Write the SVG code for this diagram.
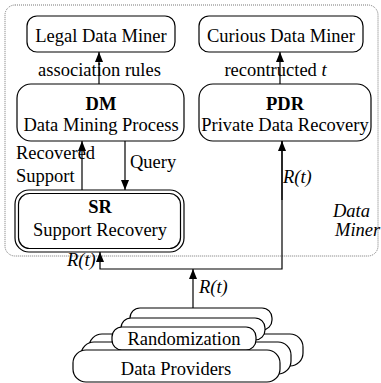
<svg xmlns="http://www.w3.org/2000/svg" width="381" height="383" viewBox="0 0 381 383">
<style>
text{font-family:"Liberation Serif","Times New Roman",serif;font-size:18.5px;fill:#000}
.c{text-anchor:middle}
.b{font-weight:bold}
.i{font-style:italic}
.box{fill:#fff;stroke:#000;stroke-width:1.2}
.ln{fill:none;stroke:#000;stroke-width:1.2}
</style>
<defs>
<marker id="ah" viewBox="0 0 10 10" refX="10" refY="5" markerWidth="10" markerHeight="10" markerUnits="userSpaceOnUse" orient="auto">
<path d="M0,1 L10,5 L0,9 Z" fill="#000"/>
</marker>
</defs>
<rect x="5" y="5" width="373" height="251" rx="10" fill="none" stroke="#777" stroke-width="1" stroke-dasharray="1,1"/>
<g id="legal"><rect class="box" x="27" y="16" width="148" height="36" rx="10"/><text class="c" x="101" y="42">Legal Data Miner</text></g>
<g id="curious"><rect class="box" x="199" y="16" width="164" height="36" rx="10"/><text class="c" x="281" y="42">Curious Data Miner</text></g>
<g id="dm"><rect class="box" x="17" y="84" width="167" height="57" rx="14"/><text class="c b" x="101" y="110">DM</text><text class="c" x="101" y="131">Data Mining Process</text></g>
<g id="pdr"><rect class="box" x="199" y="84" width="172" height="57" rx="14"/><text class="c b" x="285" y="110">PDR</text><text class="c" x="285" y="131">Private Data Recovery</text></g>
<g id="sr"><rect class="box" x="15" y="190" width="169" height="62" rx="14"/><rect class="box" x="18.5" y="193.5" width="162" height="55" rx="11"/><text class="c b" x="100" y="213">SR</text><text class="c" x="100" y="236">Support Recovery</text></g>
<g id="dataminer-label"><text class="i" x="333" y="217">Data</text><text class="i" x="335" y="236">Miner</text></g>
<g id="providers">
<rect class="box" x="89" y="334" width="214" height="32" rx="13"/>
<rect class="box" x="81" y="342" width="210" height="32" rx="13"/>
<rect class="box" x="130" y="308" width="142" height="22" rx="10"/>
<rect class="box" x="121" y="318" width="144" height="22" rx="10"/>
<rect class="box" x="112" y="327" width="144" height="23" rx="10"/>
<text class="c" x="184" y="345">Randomization</text>
<rect class="box" x="73" y="350" width="207" height="32" rx="13"/>
<text class="c" x="176" y="375">Data Providers</text>
</g>
<g id="connectors">
<line class="ln" x1="99" y1="84" x2="99" y2="52" marker-end="url(#ah)"/>
<line class="ln" x1="280" y1="84" x2="280" y2="52" marker-end="url(#ah)"/>
<line class="ln" x1="82" y1="190" x2="82" y2="141" marker-end="url(#ah)"/>
<line class="ln" x1="125" y1="141" x2="125" y2="190" marker-end="url(#ah)"/>
<polyline class="ln" points="282,141 282,269 100,269 100,252" marker-end="url(#ah)"/>
<path class="ln" d="M282,200 L282,141" marker-end="url(#ah)"/>
<line class="ln" x1="193" y1="308" x2="193" y2="269" marker-end="url(#ah)"/>
</g>
<g id="labels">
<text class="c" x="99.5" y="76">association rules</text>
<text class="c" x="275.5" y="76">recontructed <tspan class="i">t</tspan></text>
<text x="16" y="159">Recovered</text>
<text x="16" y="182">Support</text>
<text x="130" y="168">Query</text>
<text class="i" x="283" y="183">R(t)</text>
<text class="i" x="67" y="266">R(t)</text>
<text class="i" x="199" y="293">R(t)</text>
</g>
</svg>
